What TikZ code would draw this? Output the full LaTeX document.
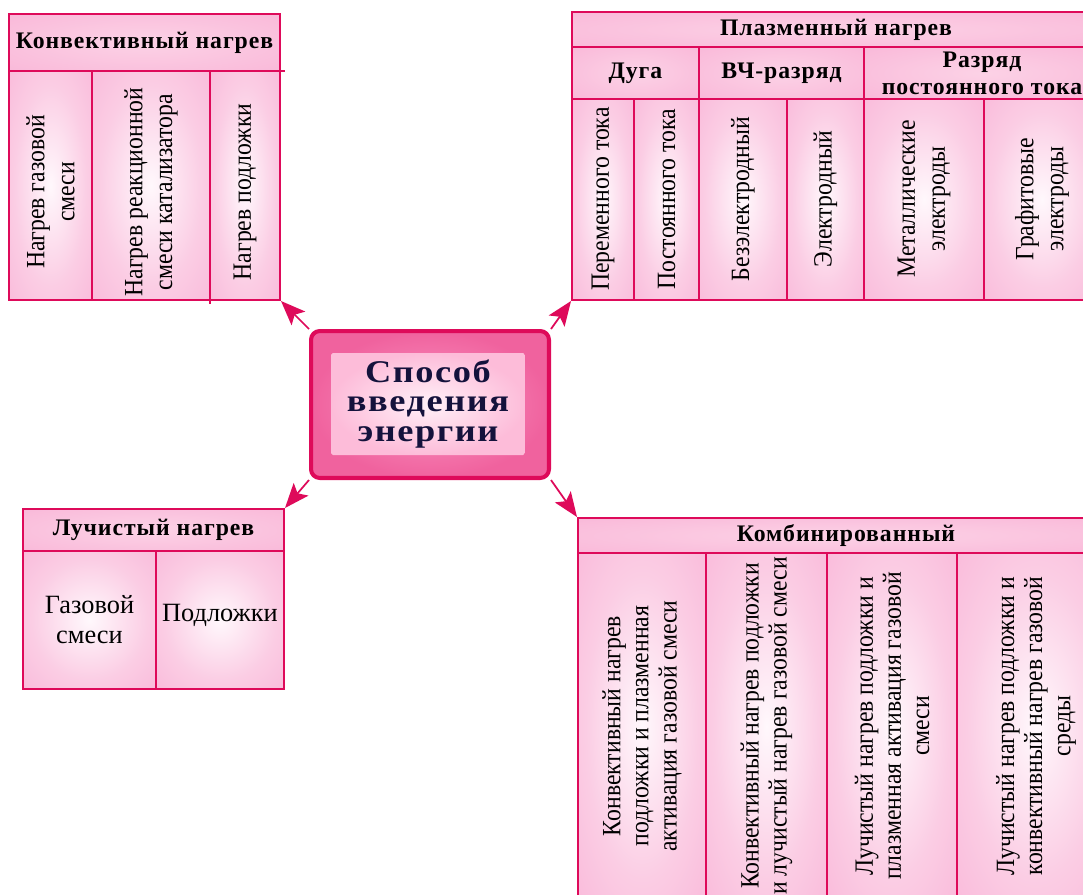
\documentclass[tikz,border=0pt]{standalone}
\usepackage{fontspec}
\setmainfont{Liberation Serif}
\usetikzlibrary{arrows.meta}
\definecolor{edgered}{RGB}{222,10,90}
\definecolor{cellout}{RGB}{248,170,210}
\definecolor{cellmid}{RGB}{251,205,228}
\definecolor{cellin}{RGB}{255,248,252}
\definecolor{headout}{RGB}{248,175,212}
\definecolor{headin}{RGB}{252,210,230}
\definecolor{coreout}{RGB}{240,98,158}
\definecolor{coremid}{RGB}{250,150,195}
\definecolor{innerout}{RGB}{253,188,217}
\definecolor{innerin}{RGB}{255,240,248}
\definecolor{inkblue}{RGB}{20,18,60}
\pgfdeclareradialshading{cellglow}{\pgfpoint{0bp}{0bp}}{color(0bp)=(cellin); color(22bp)=(cellmid); color(50bp)=(cellout); color(72bp)=(cellout)}
\pgfdeclareradialshading{headglow}{\pgfpoint{0bp}{0bp}}{color(0bp)=(headin); color(50bp)=(headout); color(72bp)=(headout)}
\tikzset{
  cellbox/.style={draw=edgered,line width=1pt,shading=cellglow},
  headbox/.style={draw=edgered,line width=1pt,shading=headglow},
  vtext/.style={rotate=90,align=center,inner sep=0pt,font=\fontsize{15}{17}\selectfont\addfontfeature{FakeStretch=0.9}},
  vtextb/.style={vtext,font=\fontsize{15}{16}\selectfont\addfontfeature{FakeStretch=0.9}},
  htext/.style={align=center,inner sep=0pt,font=\fontsize{15}{17}\selectfont},
  btext/.style={align=center,inner sep=0pt,font=\fontsize{13.5}{15.5}\selectfont\bfseries\addfontfeature{LetterSpace=4}},
  core/.style={draw=edgered,line width=2.3pt,rounded corners=5pt,minimum width=4.76cm,minimum height=2.94cm,
    inner color=coremid,outer color=coreout},
  corein/.style={rounded corners=1pt,minimum width=3.88cm,minimum height=2.04cm,inner sep=0pt,
    inner color=innerin,outer color=innerout,text=inkblue,align=center,
    font=\fontsize{18}{17}\selectfont\bfseries\addfontfeature{FakeStretch=1.15,LetterSpace=5}},
  link/.style={draw=edgered,line width=1pt,-{Stealth[length=14pt,width=11pt,inset=3pt]}},
}
\begin{document}
\begin{tikzpicture}[x=0.02cm,y=-0.02cm]
\useasboundingbox (0,0) rectangle (1083,894);
% centre
\node[core] (core) at (430,404.5) {};
\node[corein] (corein) at (428,404) {Способ\\введения\\энергии};
% convective heating
\path[headbox] (9,14) rectangle (280,71);
\node[btext] (kvhead) at (144.5,42.5) {Конвективный нагрев};
\foreach \xa/\xb/\lb [count=\i] in {9/92/{Нагрев газовой\\смеси},92/210/{Нагрев реакционной\\смеси катализатора},210/280/{Нагрев подложки}}{
  \path[cellbox] (\xa,71) rectangle (\xb,300);
  \node[vtext] (kv\i) at ({(\xa+\xb)/2},192) {\lb};
}
\draw[edgered,line width=1pt] (280,71)--(285,71) (210,300)--(210,304);
% plasma heating
\path[headbox] (572,12) rectangle (1100,47);
\node[btext] (plhead) at (836,29.5) {Плазменный нагрев};
\foreach \xa/\xb/\lb [count=\i] in {572/699/{Дуга},699/864/{ВЧ-разряд},864/1100/{Разряд\\постоянного тока}}{
  \path[headbox] (\xa,47) rectangle (\xb,99);
  \node[btext] (plsub\i) at ({(\xa+\xb)/2},73) {\lb};
}
\foreach \xa/\xb/\lb [count=\i] in {572/634/{Переменного тока},634/699/{Постоянного тока},699/787/{Безэлектродный},787/864/{Электродный},864/984/{Металлические\\электроды},984/1100/{Графитовые\\электроды}}{
  \path[cellbox] (\xa,99) rectangle (\xb,300);
  \node[vtext] (pl\i) at ({(\xa+\xb)/2},199) {\lb};
}
% radiant heating
\path[headbox] (23,509) rectangle (284,551);
\node[btext] (luhead) at (153.5,530) {Лучистый нагрев};
\foreach \xa/\xb/\lb/\yc [count=\i] in {23/156/{Газовой\\смеси}/620,156/284/{Подложки}/615}{
  \path[cellbox] (\xa,551) rectangle (\xb,689);
  \node[htext] (lu\i) at ({(\xa+\xb)/2},\yc) {\lb};
}
% combined
\path[headbox] (578,518) rectangle (1115,553);
\node[btext] (kbhead) at (846,535.5) {Комбинированный};
\foreach \xa/\xb/\lb [count=\i] in {578/706/{Конвективный нагрев\\подложки и плазменная\\активация газовой смеси},706/827/{Конвективный нагрев подложки\\и лучистый нагрев газовой смеси},827/957/{Лучистый нагрев подложки и\\плазменная активация газовой\\смеси},957/1115/{Лучистый нагрев подложки и\\конвективный нагрев газовой\\среды}}{
  \path[cellbox] (\xa,553) rectangle (\xb,900);
  \node[vtextb] (kb\i) at ({(\xa+\xb)/2},726) {\lb};
}
% arrows
\coordinate (kvtip) at (281,301);
\coordinate (pltip) at (571,301);
\coordinate (lutip) at (285,508);
\coordinate (kbtip) at (577,517);
\draw[link] (core.north west) -- (kvtip);
\draw[link] (core.north east) -- (pltip);
\draw[link] (core.south west) -- (lutip);
\draw[link] (core.south east) -- (kbtip);
\end{tikzpicture}
\end{document}
